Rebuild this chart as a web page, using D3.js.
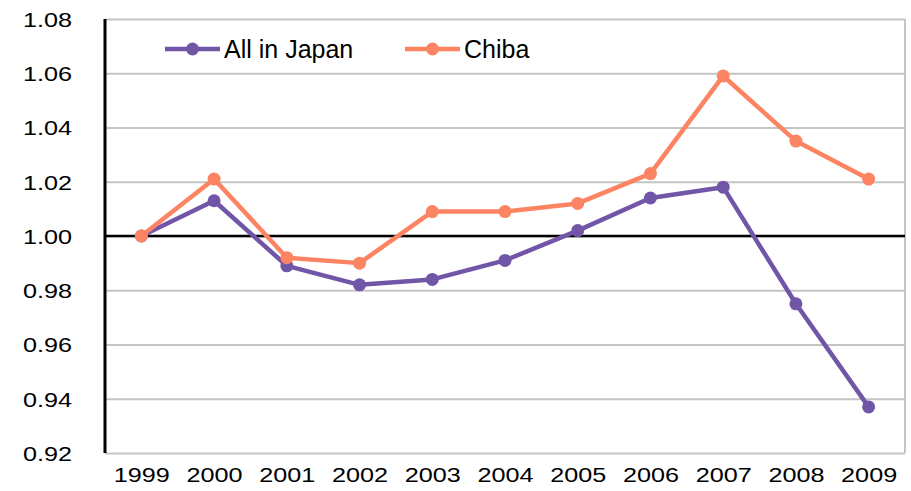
<!DOCTYPE html>
<meta charset="utf-8">
<style>
  body { margin: 0; background: #fff; }
  text { font-family: "Liberation Sans", Arial, sans-serif; font-size: 21px; fill: #000; }
  .legend text { font-size: 25px; }
  .grid line { stroke: #c4c4c4; stroke-width: 2; }
  .domain { display: none; }
</style>
<body>
<script src="https://d3js.org/d3.v7.min.js"></script>
<script>
  var years = ["1999", "2000", "2001", "2002", "2003", "2004", "2005", "2006", "2007", "2008", "2009"];
  var japan = [1.000, 1.013, 0.989, 0.982, 0.984, 0.991, 1.002, 1.014, 1.018, 0.975, 0.937];
  var chiba = [1.000, 1.021, 0.992, 0.990, 1.009, 1.009, 1.012, 1.023, 1.059, 1.035, 1.021];
  var yTicks = [0.92, 0.94, 0.96, 0.98, 1.00, 1.02, 1.04, 1.06, 1.08];

  var series = [
    { name: "All in Japan", values: japan, color: "#7156a8" },
    { name: "Chiba", values: chiba, color: "#fc8462" }
  ];

  var margin = { top: 19, right: 6, bottom: 38, left: 105 },
    width = 911 - margin.left - margin.right,
    height = 491 - margin.top - margin.bottom;

  var stretch = 1.2; // tick labels are drawn a bit wide

  var svg = d3.select("body").append("svg")
    .attr("width", 911)
    .attr("height", 491)
    .append("g")
    .attr("transform", "translate(" + margin.left + "," + margin.top + ")");

  var x = d3.scalePoint()
    .domain(years)
    .range([0, width])
    .padding(0.5);

  var y = d3.scaleLinear()
    .domain([0.92, 1.08])
    .range([height, 0]);

  // gridlines
  svg.append("g")
    .attr("class", "grid")
    .call(d3.axisLeft(y).tickValues(yTicks).tickSize(-width).tickFormat(""));

  // right border
  svg.append("line")
    .attr("x1", width).attr("x2", width)
    .attr("y1", 0).attr("y2", height)
    .attr("stroke", "#c4c4c4").attr("stroke-width", 2);

  // 1.00 baseline
  svg.append("line")
    .attr("x1", 0).attr("x2", width)
    .attr("y1", y(1)).attr("y2", y(1))
    .attr("stroke", "#000").attr("stroke-width", 2.5);

  // y axis line
  svg.append("line")
    .attr("x1", 0).attr("x2", 0)
    .attr("y1", 0).attr("y2", height)
    .attr("stroke", "#000").attr("stroke-width", 3);

  var yAxis = svg.append("g")
    .call(d3.axisLeft(y).tickValues(yTicks).tickSize(0).tickFormat(d3.format(".2f")));
  yAxis.selectAll("text")
    .attr("x", -33 / stretch)
    .attr("dy", "0.35em")
    .attr("transform", "scale(" + stretch + ",1)");

  var xAxis = svg.append("g")
    .attr("transform", "translate(0," + height + ")")
    .call(d3.axisBottom(x).tickSize(0).tickPadding(14));
  xAxis.selectAll("text")
    .attr("transform", "scale(" + stretch + ",1)");

  var line = d3.line()
    .x(function (d, i) { return x(years[i]); })
    .y(function (d) { return y(d); });

  var g = svg.selectAll(".series")
    .data(series)
    .enter().append("g");

  g.append("path")
    .attr("d", function (d) { return line(d.values); })
    .attr("fill", "none")
    .attr("stroke", function (d) { return d.color; })
    .attr("stroke-width", 4.5)
    .attr("stroke-linejoin", "round");

  g.selectAll("circle")
    .data(function (d) { return d.values.map(function (v, i) { return { v: v, i: i, c: d.color }; }); })
    .enter().append("circle")
    .attr("cx", function (d) { return x(years[d.i]); })
    .attr("cy", function (d) { return y(d.v); })
    .attr("r", 6.5)
    .attr("fill", function (d) { return d.c; });

  // legend
  var legend = svg.append("g")
    .attr("class", "legend")
    .attr("transform", "translate(60,30)");

  var item = legend.selectAll("g")
    .data(series)
    .enter().append("g")
    .attr("transform", function (d, i) { return "translate(" + (i * 240) + ",0)"; });

  item.append("line")
    .attr("x1", 0).attr("x2", 55)
    .attr("stroke", function (d) { return d.color; })
    .attr("stroke-width", 4.5);

  item.append("circle")
    .attr("cx", 27.5)
    .attr("r", 6.5)
    .attr("fill", function (d) { return d.color; });

  item.append("text")
    .attr("x", 59)
    .attr("dy", "0.35em")
    .text(function (d) { return d.name; });
</script>
</body>
